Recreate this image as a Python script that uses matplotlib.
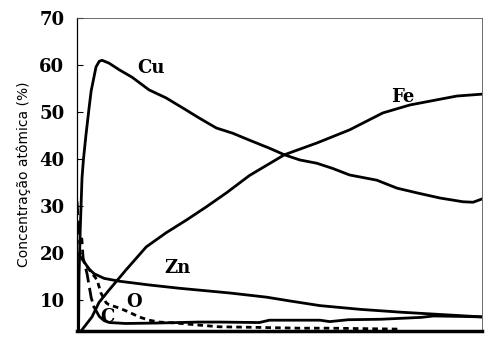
import matplotlib.pyplot as plt

# depth axis in arbitrary units (0-100), concentrations in at.%
cu_x = [0.4, 0.5, 0.8, 1.24, 1.6, 2.2, 3.0, 3.5, 4.7, 5.5, 6.2, 7.9, 10.4, 13.6, 17.8, 22.0,
        27.0, 30.2, 34.4, 38.4, 42.6, 47.5, 51.2, 55.0, 59.2, 63.1, 67.3, 74.0, 79.0, 83.9,
        89.6, 95.3, 97.8, 100]
cu_y = [3.4, 15, 25, 36, 40, 45, 51, 54.5, 59.6, 60.8, 61, 60.4, 59, 57.4, 54.7, 53,
        50.4, 48.7, 46.6, 45.5, 44, 42.3, 40.9, 39.8, 39.1, 38, 36.6, 35.5, 33.8, 32.8,
        31.7, 30.9, 30.8, 31.5]

fe_x = [1.0, 3.7, 5.45, 7.9, 12.1, 17.1, 22.0, 27.0, 31.9, 36.9, 42.6, 51.2, 59.2, 67.3,
        75.5, 82.2, 88.9, 93.8, 100]
fe_y = [3.4, 6.4, 9.5, 12.1, 16.4, 21.3, 24.3, 27, 29.8, 32.8, 36.5, 40.9, 43.4, 46.2,
        49.8, 51.5, 52.6, 53.4, 53.8]

zn_x = [0, 1.0, 2.0, 3.0, 4.2, 6.7, 10.4, 17.8, 25.2, 37.6, 46.8, 52.5, 60, 70, 80, 90, 100]
zn_y = [20, 19, 17.8, 16.6, 15.6, 14.6, 14.0, 13.2, 12.5, 11.5, 10.6, 9.8, 8.8, 8.0, 7.4, 6.9, 6.4]

c_x = [0, 0.3, 0.7, 1.2, 1.5, 2.5, 3.5, 4.2, 5.5, 6.7, 8, 12, 20, 30, 35, 45, 47.5, 60,
       62.4, 67, 75, 85, 88, 95, 100]
c_y = [31, 27, 22, 23, 19, 15.5, 10.5, 8.5, 6.5, 5.6, 5.2, 5.0, 5.1, 5.3, 5.3, 5.2, 5.7, 5.7,
       5.4, 5.8, 5.9, 6.3, 6.6, 6.5, 6.4]
c_dash_end = 8  # first points drawn dashed

o_x = [2.5, 4.95, 5.9, 7.2, 7.9, 10.4, 12.9, 15.3, 17.8, 20.3, 24.5, 29.5, 35.1, 42.6, 55, 62.4, 79.7]
o_y = [17, 14.3, 11.5, 9.4, 9.0, 8.3, 7.4, 6.4, 5.7, 5.3, 5.1, 4.7, 4.3, 4.2, 4.0, 4.0, 3.8]

yticks = [10, 20, 30, 40, 50, 60, 70]

fig = plt.figure(figsize=(4.99, 3.38), dpi=100)
ax = fig.add_axes([0.1543, 0.0207, 0.8117, 0.926])

lw = 2.0
ax.plot(cu_x, cu_y, color='black', lw=lw)
ax.plot(fe_x, fe_y, color='black', lw=lw)
ax.plot(zn_x, zn_y, color='black', lw=lw)
ax.plot(c_x[:c_dash_end], c_y[:c_dash_end], color='black', lw=lw, dashes=(5, 2))
ax.plot(c_x[c_dash_end - 1:], c_y[c_dash_end - 1:], color='black', lw=lw)
ax.plot(o_x, o_y, color='black', lw=lw, dashes=(2, 1.5))

lab = dict(fontfamily='DejaVu Serif', fontweight='bold', fontsize=13, ha='center', va='center')
ax.text(18.3, 59.4, 'Cu', **lab)
ax.text(80.4, 53.2, 'Fe', **lab)
ax.text(24.8, 16.8, 'Zn', **lab)
ax.text(14.1, 9.6, 'O', **lab)
ax.text(7.6, 6.4, 'C', **lab)

ax.set_xlim(0, 100)
ax.set_ylim(3.4, 70)
ax.set_yticks(yticks)
ax.set_yticklabels([str(t) for t in yticks], fontfamily='DejaVu Serif', fontweight='bold', fontsize=13)
ax.tick_params(axis='y', direction='in', length=4, width=0.8, pad=9)
ax.set_xticks([])
ax.set_ylabel('Concentração atômica (%)', fontfamily='DejaVu Sans', fontsize=10, labelpad=6)

for s in ['top', 'right']:
    ax.spines[s].set_linewidth(0.6)
    ax.spines[s].set_color('#555555')
ax.spines['left'].set_linewidth(0.9)
ax.spines['bottom'].set_linewidth(2.5)

fig.savefig('out.png', dpi=100)
